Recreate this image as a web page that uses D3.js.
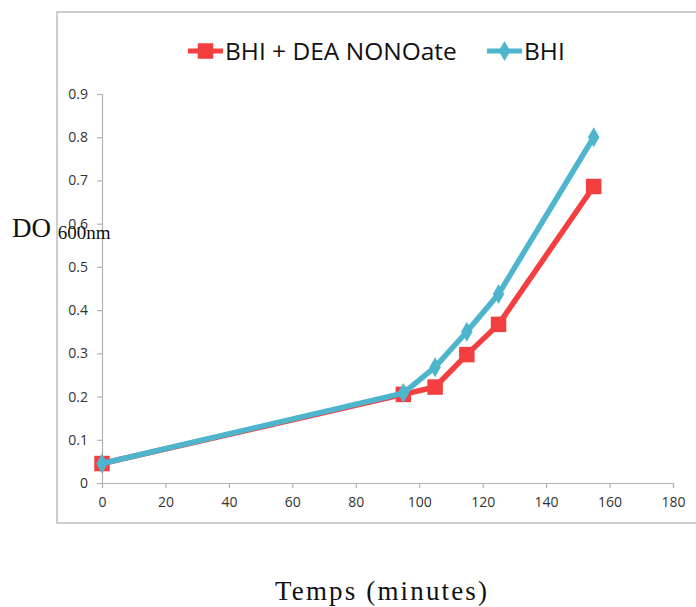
<!DOCTYPE html>
<html>
<head>
<meta charset="utf-8">
<script src="https://cdn.jsdelivr.net/npm/d3@7"></script>
<style>
  body { margin: 0; background: #fff; }
  svg { display: block; }
</style>
</head>
<body>
<div id="chart"></div>
<script>
(function () {

  // Data
  const times = [0, 95, 105, 115, 125, 155]
  const bhiDea = [0.045, 0.205, 0.222, 0.297, 0.367, 0.686]
  const bhi = [0.045, 0.208, 0.268, 0.350, 0.437, 0.800]
  const seriesNames = ["BHI + DEA NONOate", "BHI"]
  const xTicks = [0, 20, 40, 60, 80, 100, 120, 140, 160, 180]
  const yTicks = [0, 0.1, 0.2, 0.3, 0.4, 0.5, 0.6, 0.7, 0.8, 0.9]

  const colors = { red: "#f43f41", blue: "#4db6cd" }

  // Margin convention
  const margin = { top: 94, right: 23, bottom: 124, left: 102 }
  const width = 696 - margin.left - margin.right
  const height = 607 - margin.top - margin.bottom

  const root = d3.select("#chart").append("svg")
      .attr("width", 696)
      .attr("height", 607)

  // Outer frame (runs off to the right)
  root.append("rect")
      .attr("x", 57)
      .attr("y", 12)
      .attr("width", 700)
      .attr("height", 511)
      .attr("fill", "none")
      .attr("stroke", "#bdbdbd")
      .attr("stroke-width", 1.5)

  const svg = root.append("g")
      .attr("transform", "translate(" + margin.left + "," + margin.top + ")")

  const x = d3.scaleLinear().domain([0, 180]).range([0, width])
  const y = d3.scaleLinear().domain([0, 0.9]).range([height, 0])

  // Axes
  const xAxis = svg.append("g")
      .attr("transform", "translate(0," + height + ")")
      .call(d3.axisBottom(x).tickValues(xTicks).tickSize(5).tickPadding(9).tickFormat(d3.format("d")))
  const yAxis = svg.append("g")
      .call(d3.axisLeft(y).tickValues(yTicks).tickSize(5).tickPadding(9).tickFormat(d => d === 0 ? "0" : d3.format(".1f")(d)))

  ;[xAxis, yAxis].forEach(a => {
    a.select(".domain").attr("stroke", "#b3b3b3").attr("stroke-width", 1.2)
    a.selectAll(".tick line").attr("stroke", "#b3b3b3").attr("stroke-width", 1.2)
    a.selectAll(".tick text")
      .attr("fill", "#333")
      .style("font-family", "'Open Sans', sans-serif")
      .style("font-size", "14px")
  })

  // Lines
  const line = d3.line()
      .x((d, i) => x(times[i]))
      .y(d => y(d))

  const series = [
    { name: seriesNames[0], values: bhiDea, color: colors.red, shape: d3.symbolSquare, size: 240 },
    { name: seriesNames[1], values: bhi, color: colors.blue, shape: d3.symbolDiamond, size: 115 }
  ]

  series.forEach(s => {
    svg.append("path")
      .datum(s.values)
      .attr("d", line)
      .attr("fill", "none")
      .attr("stroke", s.color)
      .attr("stroke-width", 5.5)
      .attr("stroke-linejoin", "round")

    svg.selectAll(null)
      .data(s.values)
      .join("path")
      .attr("transform", (d, i) => "translate(" + x(times[i]) + "," + y(d) + ")")
      .attr("d", d3.symbol().type(s.shape).size(s.size))
      .attr("fill", s.color)
  })

  // Legend
  const legendPos = [188, 487]
  series.forEach((s, i) => {
    const g = root.append("g").attr("transform", "translate(" + legendPos[i] + ",51)")
    g.append("line")
      .attr("x1", 0).attr("x2", 35)
      .attr("stroke", s.color)
      .attr("stroke-width", 5)
    g.append("path")
      .attr("transform", "translate(17.5,0)")
      .attr("d", d3.symbol().type(s.shape).size(s.size))
      .attr("fill", s.color)
    g.append("text")
      .attr("x", 37)
      .attr("y", 8.5)
      .attr("fill", "#111")
      .style("font-family", "'Open Sans', sans-serif")
      .style("font-size", "24.5px")
      .text(s.name)
  })

  // Axis titles
  const yTitle = root.append("text")
      .attr("x", 12)
      .attr("y", 237)
      .attr("fill", "#111")
      .style("font-family", "'Liberation Serif', serif")
      .style("font-size", "27px")
  yTitle.append("tspan").text("DO ")
  yTitle.append("tspan")
      .attr("dy", 1.5)
      .style("font-size", "19px")
      .text("600nm")

  root.append("text")
      .attr("x", 275)
      .attr("y", 600)
      .attr("fill", "#111")
      .attr("textLength", 212)
      .attr("lengthAdjust", "spacing")
      .style("font-family", "'Liberation Serif', serif")
      .style("font-size", "27px")
      .text("Temps (minutes)")

})();
</script>
</body>
</html>
